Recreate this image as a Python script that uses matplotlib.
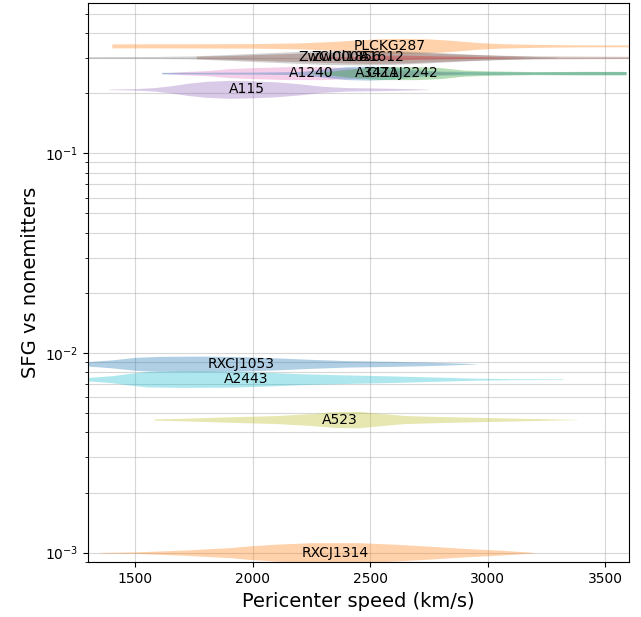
import numpy as np
import matplotlib
matplotlib.use('Agg')
import matplotlib.pyplot as plt

# cluster names, SFG / nonemitter ratio (y position) and where the name sits
names = ['PLCKG287', 'ZwCl0008', 'ZwCl1856', 'A1612', 'A1240', 'A3411',
         'CIZAJ2242', 'A115', 'RXCJ1053', 'A2443', 'A523', 'RXCJ1314']
ratio = [0.345, 0.302, 0.302, 0.302, 0.252, 0.252,
         0.252, 0.209, 0.00882, 0.00739, 0.00464, 0.001]
label_speed = [2583, 2342, 2400, 2552, 2250, 2530,
               2637, 1974, 1949, 1972, 2371, 2351]

# pericenter speed grid (km/s) and relative density of the speed distribution
speed_PLCKG287 = [1400, 1700, 2000, 2200, 2350, 2450, 2550, 2650, 2750, 2850, 2950, 3050, 3200, 3400, 3600, 3700]
dens_PLCKG287 = [4.0, 4.2, 4.5, 6, 9, 12, 14.5, 15, 14, 11, 7, 4.5, 3, 2, 1.8, 1.5]

speed_ZwCl0008 = [1250, 1600, 1750, 1900, 2100, 2300, 2450, 2600, 2750, 2900, 3050, 3200, 3300]
dens_ZwCl0008 = [1.5, 2, 3, 6, 10, 14, 15, 14, 11, 7, 4, 2, 0.5]

speed_ZwCl1856 = [1760, 1900, 2100, 2300, 2500, 2650, 2800, 3000, 3200, 3400, 3700]
dens_ZwCl1856 = [2.5, 4, 7, 10, 12, 11, 8, 5, 3, 2.5, 2]

speed_A1612 = [2250, 2450, 2550, 2650, 2800, 3000, 3150]
dens_A1612 = [0.5, 2.5, 4.5, 4.5, 3, 1.5, 0.3]

speed_A1240 = [1612, 1700, 1800, 1900, 2000, 2150, 2300, 2450, 2600, 2750, 2900]
dens_A1240 = [0.5, 3, 5, 9, 11, 13, 13, 10, 6, 3, 0.5]

speed_A3411 = [1612, 2000, 2200, 2300, 2400, 2500, 2600, 2700, 2800, 2950, 3200, 3400, 3590]
dens_A3411 = [1.5, 2, 3, 8, 13, 14, 12, 7, 4, 3, 2.5, 3, 3]

speed_CIZAJ2242 = [2250, 2350, 2450, 2550, 2700, 2800, 2900, 3000, 3200, 3400, 3550, 3590]
dens_CIZAJ2242 = [0.5, 5, 10, 13, 13, 11, 6, 4.5, 3, 3.5, 3.5, 3.3]

speed_A115 = [1390, 1500, 1580, 1650, 1720, 1800, 1900, 2000, 2100, 2200, 2300, 2400, 2550, 2700, 2750]
dens_A115 = [0.5, 1.5, 3.5, 7, 12, 16, 18, 17, 15, 11, 6, 3.5, 2.5, 1, 0.3]

speed_RXCJ1053 = [1150, 1300, 1400, 1500, 1600, 1800, 1950, 2100, 2250, 2400, 2600, 2750, 2880, 2950]
dens_RXCJ1053 = [1, 4.5, 8, 13, 15, 15.5, 14.5, 12, 9, 6.5, 5, 3.5, 1.5, 0.3]

speed_A2443 = [1200, 1300, 1400, 1480, 1550, 1700, 1900, 2050, 2200, 2400, 2600, 2800, 2950, 3100, 3320]
dens_A2443 = [1, 3.5, 7, 12, 15.5, 16.5, 16, 14, 11, 8.5, 6.5, 4, 2, 1, 0.6]

speed_A523 = [1580, 1700, 1900, 2100, 2250, 2350, 2450, 2550, 2650, 2800, 3000, 3150, 3300, 3380]
dens_A523 = [1.2, 2.5, 5.5, 8, 12, 16, 16.5, 12, 8, 6, 4, 2.5, 1, 0.3]

speed_RXCJ1314 = [1350, 1500, 1700, 1900, 2000, 2100, 2250, 2450, 2600, 2750, 2900, 3050, 3150, 3200]
dens_RXCJ1314 = [0.5, 1.5, 5, 10, 14, 17, 20, 20, 17, 13, 8.5, 5, 2, 0.3]

speeds = [speed_PLCKG287, speed_ZwCl0008, speed_ZwCl1856, speed_A1612, speed_A1240, speed_A3411,
          speed_CIZAJ2242, speed_A115, speed_RXCJ1053, speed_A2443, speed_A523, speed_RXCJ1314]
dens = [dens_PLCKG287, dens_ZwCl0008, dens_ZwCl1856, dens_A1612, dens_A1240, dens_A3411,
        dens_CIZAJ2242, dens_A115, dens_RXCJ1053, dens_A2443, dens_A523, dens_RXCJ1314]

colors = ['tab:orange', 'tab:gray', 'tab:brown', 'tab:red', 'tab:pink', 'tab:blue',
          'tab:green', 'tab:purple', 'tab:blue', 'tab:cyan', 'tab:olive', 'tab:orange']

# half width of a violin, in decades, per unit of density
DEC_PER_UNIT = 0.5 / 200.


def draw_violin(ax, v, d, pos, color):
    v = np.asarray(v, dtype=float)
    hw = np.asarray(d, dtype=float) * DEC_PER_UNIT
    ax.fill_between(v, pos * 10 ** (-hw), pos * 10 ** hw, color=color,
                    alpha=0.35, linewidth=0)


def main():
    fig = plt.figure(figsize=(6.41, 6.17), dpi=100)
    ax = fig.add_axes([0.1378, 0.0887, 0.9805 - 0.1378, 0.9956 - 0.0887])

    for v, d, pos, c in zip(speeds, dens, ratio, colors):
        draw_violin(ax, v, d, pos, c)

    for name, x, y in zip(names, label_speed, ratio):
        ax.text(x, y, name, ha='center', va='center', fontsize=10, zorder=5)

    ax.set_yscale('log')
    ax.set_xlim(1300, 3600)
    ax.set_ylim(0.000895, 0.5675)
    ax.grid(which='both', color='#b0b0b0', alpha=0.5, linewidth=0.8)
    ax.set_axisbelow(True)
    ax.set_xlabel('Pericenter speed (km/s)', fontsize=14)
    ax.set_ylabel('SFG vs nonemitters', fontsize=14)
    fig.savefig('out.png', dpi=100)


if __name__ == '__main__':
    main()
